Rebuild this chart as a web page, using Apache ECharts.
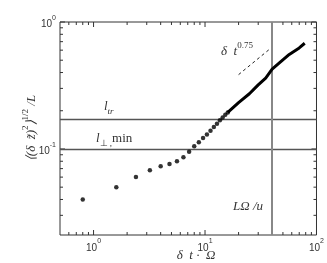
<!DOCTYPE html>
<html>
<head>
<meta charset="utf-8">
<script src="https://cdn.jsdelivr.net/npm/echarts@6/dist/echarts.min.js"></script>
<style>html,body{margin:0;padding:0;background:#fff}#main{width:327px;height:263px}</style>
</head>
<body>
<div id="main"></div>
<script>
// data
var dtDots = [0.8, 1.6, 2.4, 3.2, 4.0, 4.8, 5.6, 6.4, 7.2, 8.0, 8.8, 9.6, 10.4, 11.2, 12.0, 12.8, 13.6, 14.4, 15.2, 16.0];
var rmsDots = [0.040, 0.050, 0.060, 0.068, 0.073, 0.076, 0.080, 0.086, 0.095, 0.105, 0.113, 0.122, 0.130, 0.139, 0.149, 0.158, 0.168, 0.177, 0.186, 0.194];
// dense part, dots merge into a thick line
var dtTail = [16.0, 20, 25, 30, 35, 40, 47, 57, 70, 78.4];
var rmsTail = [0.194, 0.232, 0.272, 0.320, 0.362, 0.425, 0.48, 0.555, 0.625, 0.68];
// power-law guide t^0.75
var dtSlope = [20, 38.4];
var rmsSlope = [0.385, 0.616];
// reference lines
var lTr = 0.172;
var lPerpMin = 0.096;
var lOmegaU = 40;
// ticks
var xTickVals = [0.6, 0.7, 0.8, 0.9, 1, 2, 3, 4, 5, 6, 7, 8, 9, 10, 20, 30, 40, 50, 60, 70, 80, 90, 100];
var yTickVals = [0.03, 0.04, 0.05, 0.06, 0.07, 0.08, 0.09, 0.1, 0.2, 0.3, 0.4, 0.5, 0.6, 0.7, 0.8, 0.9, 1];
var xMajor = [1, 10, 100];
var xMajorLabels = ['0', '1', '2'];
var yMajor = [0.1, 1];
var yMajorLabels = ['-1', '0'];

var xMin = 0.5, xMax = 100, yMin = 0.021, yMax = 1;

function zip(a, b) {
    return a.map(function (v, i) { return [v, b[i]]; });
}
function labelFor(majors, labels) {
    return function (v) {
        for (var i = 0; i < majors.length; i++) {
            if (Math.abs(v - majors[i]) < majors[i] * 1e-6) return '{b|10}{s|' + labels[i] + '}';
        }
        return '';
    };
}
var tickRich = {
    b: {fontFamily: 'Liberation Sans', fontSize: 10, color: '#333', lineHeight: 15, verticalAlign: 'bottom'},
    s: {fontFamily: 'Liberation Sans', fontSize: 7, color: '#333', lineHeight: 8, verticalAlign: 'top'}
};
var serif = 'Liberation Serif';

var dom = document.getElementById('main');
var myChart = echarts.init(dom);
var option = {
    animation: false,
    backgroundColor: '#fff',
    grid: {left: 60, right: 10, top: 22, bottom: 28, show: true, borderColor: '#333', borderWidth: 1},
    xAxis: {
        type: 'log', min: xMin, max: xMax,
        axisLine: {show: false}, axisTick: {show: false}, splitLine: {show: false},
        axisLabel: {formatter: labelFor(xMajor, xMajorLabels), rich: tickRich, margin: 3, showMaxLabel: true, showMinLabel: false}
    },
    yAxis: {
        type: 'log', min: yMin, max: yMax,
        axisLine: {show: false}, axisTick: {show: false}, splitLine: {show: false},
        axisLabel: {formatter: labelFor(yMajor, yMajorLabels), rich: tickRich, margin: 4, showMaxLabel: true, showMinLabel: false}
    },
    series: [
        {
            type: 'scatter',
            data: zip(dtDots, rmsDots),
            symbolSize: 4.5,
            itemStyle: {color: '#000'},
            z: 5,
            markLine: {
                silent: true, symbol: 'none', label: {show: false},
                data: [
                    {yAxis: lTr, lineStyle: {color: '#555', width: 1.3, type: 'solid'}},
                    {yAxis: lPerpMin, lineStyle: {color: '#555', width: 1.3, type: 'solid'}},
                    {xAxis: lOmegaU, lineStyle: {color: '#888', width: 2, type: 'solid'}}
                ]
            }
        },
        {
            type: 'line',
            data: zip(dtTail, rmsTail),
            showSymbol: false,
            lineStyle: {color: '#000', width: 3},
            z: 5
        },
        {
            type: 'line',
            data: zip(dtSlope, rmsSlope),
            showSymbol: false,
            lineStyle: {color: '#222', width: 1, type: [3, 3]}
        },
        {
            type: 'custom', silent: true, clip: false,
            data: xTickVals.map(function (v) { return [v, yMin]; }),
            renderItem: function (params, api) {
                var v = api.value(0);
                var b = api.coord([v, yMin]);
                var t = api.coord([v, yMax]);
                var len = xMajor.indexOf(v) >= 0 ? 5 : 3;
                var st = {stroke: '#333', lineWidth: 1};
                return {type: 'group', children: [
                    {type: 'line', shape: {x1: b[0], y1: b[1], x2: b[0], y2: b[1] - len}, style: st},
                    {type: 'line', shape: {x1: t[0], y1: t[1], x2: t[0], y2: t[1] + len}, style: st}
                ]};
            }
        },
        {
            type: 'custom', silent: true, clip: false,
            data: yTickVals.map(function (v) { return [xMin, v]; }),
            renderItem: function (params, api) {
                var v = api.value(1);
                var l = api.coord([xMin, v]);
                var r = api.coord([xMax, v]);
                var len = yMajor.indexOf(v) >= 0 ? 5 : 3;
                var st = {stroke: '#333', lineWidth: 1};
                return {type: 'group', children: [
                    {type: 'line', shape: {x1: l[0], y1: l[1], x2: l[0] + len, y2: l[1]}, style: st},
                    {type: 'line', shape: {x1: r[0], y1: r[1], x2: r[0] - len, y2: r[1]}, style: st}
                ]};
            }
        }
    ],
    graphic: [
        {
            type: 'text', x: 104, y: 108,
            style: {
                text: '{i|l}{sub|tr}', verticalAlign: 'middle',
                rich: {
                    i: {fontFamily: serif, fontStyle: 'italic', fontSize: 13, fill: '#333', lineHeight: 16, verticalAlign: 'top'},
                    sub: {fontFamily: serif, fontStyle: 'italic', fontSize: 9, fill: '#333', lineHeight: 9, verticalAlign: 'bottom'}
                }
            }
        },
        {
            type: 'text', x: 96, y: 140,
            style: {
                text: '{i|l}{sub|⊥ ,}{r|min}', verticalAlign: 'middle',
                rich: {
                    i: {fontFamily: serif, fontStyle: 'italic', fontSize: 13, fill: '#333', lineHeight: 16, verticalAlign: 'top'},
                    sub: {fontFamily: serif, fontSize: 9, fill: '#333', lineHeight: 9, verticalAlign: 'bottom'},
                    r: {fontFamily: serif, fontSize: 13, fill: '#333', lineHeight: 16, verticalAlign: 'top'}
                }
            }
        },
        {
            type: 'text', x: 233, y: 207,
            style: {
                text: 'LΩ /u', verticalAlign: 'middle',
                font: 'italic 13px "Liberation Serif"', fill: '#333'
            }
        },
        {
            type: 'text', x: 221, y: 50,
            style: {
                text: '{i|δ  t}{s|0.75}', verticalAlign: 'middle',
                rich: {
                    i: {fontFamily: serif, fontStyle: 'italic', fontSize: 13, fill: '#333', lineHeight: 17, verticalAlign: 'bottom'},
                    s: {fontFamily: serif, fontSize: 9, fill: '#333', lineHeight: 9, verticalAlign: 'top'}
                }
            }
        },
        {
            type: 'text', x: 196, y: 256,
            style: {
                text: 'δ  t ·  Ω', align: 'center', verticalAlign: 'middle',
                font: 'italic 13px "Liberation Serif"', fill: '#333'
            }
        },
        {
            type: 'text', x: 30, y: 128, rotation: Math.PI / 2,
            style: {
                text: '{i|⟨(δ  z̃)}{s|2}{i|⟩}{s|1/2}{i| /L}', align: 'center', verticalAlign: 'middle',
                rich: {
                    i: {fontFamily: serif, fontStyle: 'italic', fontSize: 13, fill: '#333', lineHeight: 17, verticalAlign: 'bottom'},
                    s: {fontFamily: serif, fontSize: 9, fill: '#333', lineHeight: 9, verticalAlign: 'top'}
                }
            }
        }
    ]
};
if (option && typeof option === "object") {
    myChart.setOption(option, true);
}
</script>
</body>
</html>
